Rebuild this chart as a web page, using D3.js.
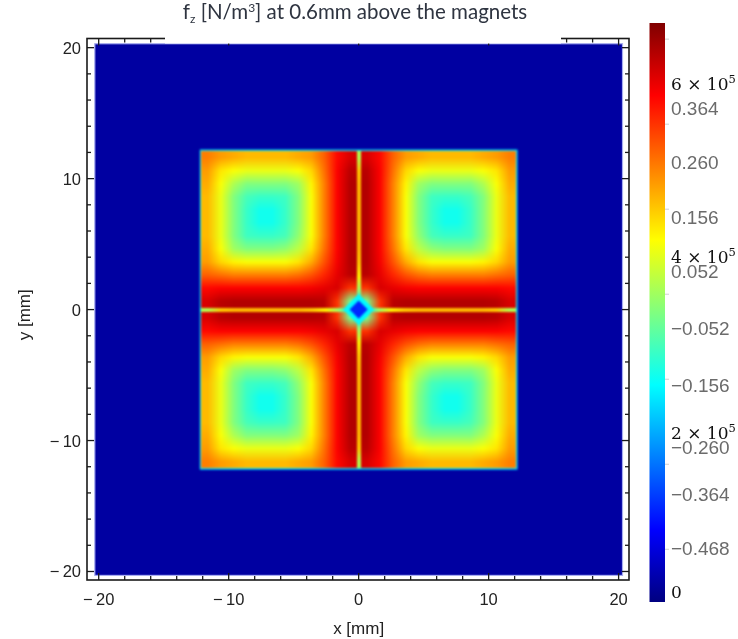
<!DOCTYPE html>
<html><head><meta charset="utf-8">
<script src="https://cdn.jsdelivr.net/npm/d3@7"></script>
<style>
body{margin:0;background:#fff}
#wrap{position:relative;width:738px;height:639px}
#heat,#chart{position:absolute;left:0;top:0}
</style>
</head><body>
<div id="wrap"><canvas id="heat" width="738" height="639"></canvas><svg id="chart" width="738" height="639"></svg></div>
<script>
// ---------------- data (values in units of 1e5 N/m^3) ----------------
const xTicks = [-20, -10, 0, 10, 20];
const yTicks = [-20, -10, 0, 10, 20];
const minorTicks = [-18,-16,-14,-12,-8,-6,-4,-2,2,4,6,8,12,14,16,18];
const cbMainLabels = [0, 2, 4, 6];                       // × 10^5
const cbGreyLabels = [0.364, 0.260, 0.156, 0.052, -0.052, -0.156, -0.260, -0.364, -0.468];
const cbMinorTicks = [0.5, 1.5, 2.5, 3.5, 4.5, 5.5, 6.5];
const magnetHalf = 12.1;      // mm
const gapHalf = 0.15;         // mm
const plotHalf = 20.3;        // mm
const backgroundValue = 0.1;
const rimValue = 2.3;
// top-left magnet quadrant, 1 mm cells: rows y = 11.5 .. 0.5, cols x = -11.5 .. -0.5
const quadrantTL = [
  [5.0, 4.8, 4.7, 4.6, 4.6, 4.6, 4.6, 4.7, 4.8, 5.2, 5.8, 6.1],
  [4.8, 4.3, 4.1, 4.0, 4.0, 4.0, 4.0, 4.1, 4.4, 5.1, 5.85, 6.3],
  [4.7, 4.1, 3.6, 3.3, 3.3, 3.3, 3.3, 3.5, 4.2, 5.0, 5.85, 6.35],
  [4.6, 4.0, 3.3, 2.9, 2.8, 2.8, 2.85, 3.3, 4.1, 5.0, 5.85, 6.35],
  [4.6, 4.0, 3.3, 2.8, 2.55, 2.55, 2.8, 3.3, 4.1, 5.0, 5.85, 6.35],
  [4.6, 4.0, 3.3, 2.8, 2.55, 2.55, 2.8, 3.3, 4.1, 5.0, 5.85, 6.35],
  [4.6, 4.0, 3.3, 2.85, 2.8, 2.8, 2.9, 3.4, 4.1, 5.0, 5.85, 6.35],
  [4.7, 4.1, 3.5, 3.3, 3.3, 3.3, 3.4, 3.7, 4.3, 5.1, 5.85, 6.35],
  [4.8, 4.4, 4.2, 4.1, 4.1, 4.1, 4.1, 4.3, 4.7, 5.3, 5.9, 6.35],
  [5.2, 5.1, 5.0, 5.0, 5.0, 5.0, 5.0, 5.1, 5.3, 5.6, 6.0, 6.3],
  [5.8, 5.85, 5.85, 5.85, 5.85, 5.85, 5.85, 5.85, 5.9, 6.0, 6.1, 5.5],
  [6.1, 6.3, 6.35, 6.35, 6.35, 6.35, 6.35, 6.35, 6.35, 6.3, 5.5, 3.2]
];
// value in the narrow gap between magnets, from the centre outwards (0.5 .. 11.5 mm)
const gapProfile = [2.2, 3.4, 4.2, 4.5, 4.6, 4.6, 4.6, 4.6, 4.6, 4.6, 4.5, 3.6];
// centre diamond: half-diagonal (mm) and value
const centreR = [1.2, 0.7];
const centreV = [2.4, 1.0];

// ---------------- scales ----------------
const x = d3.scaleLinear().domain([-20.9, 20.8]).range([87, 629]);
const y = d3.scaleLinear().domain([-20.65, 20.7]).range([580, 38.5]);
const vMin = -0.12, vMax = 6.69;
const jetT = [0, 0.125, 0.375, 0.625, 0.875, 1];
const jetC = ["#000080", "#0000ff", "#00ffff", "#ffff00", "#ff0000", "#800000"];
const color = d3.scaleLinear().domain(jetT.map(t => vMin + t * (vMax - vMin))).range(jetC).clamp(true);

// ---------------- heatmap (canvas) ----------------
function gridCanvas(m) {
  const rows = m.length, cols = m[0].length;
  const c = document.createElement("canvas"); c.width = cols; c.height = rows;
  const cx = c.getContext("2d"); const img = cx.createImageData(cols, rows);
  m.forEach((row, i) => row.forEach((v, j) => {
    const col = d3.rgb(color(v)); const k = 4 * (i * cols + j);
    img.data[k] = col.r; img.data[k+1] = col.g; img.data[k+2] = col.b; img.data[k+3] = 255;
  }));
  cx.putImageData(img, 0, 0); return c;
}
const heat = document.getElementById("heat").getContext("2d");
heat.fillStyle = color(backgroundValue);
heat.fillRect(x(-plotHalf), y(plotHalf), x(plotHalf) - x(-plotHalf), y(-plotHalf) - y(plotHalf));

const off = document.createElement("canvas"); off.width = 738; off.height = 639;
const oc = off.getContext("2d");
oc.imageSmoothingEnabled = true; oc.imageSmoothingQuality = "medium";
// rim
oc.fillStyle = color(rimValue);
const rh = magnetHalf + 0.12;
oc.fillRect(x(-rh), y(rh), x(rh) - x(-rh), y(-rh) - y(rh));
// quadrants (mirror images of the top-left one)
const qTR = quadrantTL.map(r => r.slice().reverse());
const qBL = quadrantTL.slice().reverse();
const qBR = qTR.slice().reverse();
const quads = [
  {m: quadrantTL, x0: -magnetHalf, x1: -gapHalf, y0: magnetHalf, y1: gapHalf},
  {m: qTR, x0: gapHalf, x1: magnetHalf, y0: magnetHalf, y1: gapHalf},
  {m: qBL, x0: -magnetHalf, x1: -gapHalf, y0: -gapHalf, y1: -magnetHalf},
  {m: qBR, x0: gapHalf, x1: magnetHalf, y0: -gapHalf, y1: -magnetHalf}
];
// gap strips
const gapFull = gapProfile.slice().reverse().concat(gapProfile);
oc.drawImage(gridCanvas(gapFull.map(v => [v])), x(-gapHalf - 0.05), y(magnetHalf), x(gapHalf + 0.05) - x(-gapHalf - 0.05), y(-magnetHalf) - y(magnetHalf));
oc.drawImage(gridCanvas([gapFull]), x(-magnetHalf), y(gapHalf + 0.05), x(magnetHalf) - x(-magnetHalf), y(-gapHalf - 0.05) - y(gapHalf + 0.05));
quads.forEach(q => oc.drawImage(gridCanvas(q.m), x(q.x0), y(q.y0), x(q.x1) - x(q.x0), y(q.y1) - y(q.y0)));
// centre diamond
centreR.forEach((r, i) => {
  oc.fillStyle = color(centreV[i]);
  oc.beginPath();
  oc.moveTo(x(0), y(r)); oc.lineTo(x(r), y(0)); oc.lineTo(x(0), y(-r)); oc.lineTo(x(-r), y(0));
  oc.closePath(); oc.fill();
});
heat.save(); heat.filter = "blur(1.1px)"; heat.drawImage(off, 0, 0); heat.restore();
// pale edge of plotted region
heat.strokeStyle = "#a7acf0"; heat.lineWidth = 1.2;
heat.strokeRect(x(-plotHalf), y(plotHalf), x(plotHalf) - x(-plotHalf), y(-plotHalf) - y(plotHalf));

// ---------------- axes / frame (svg) ----------------
const svg = d3.select("#chart");
const fmt = v => (v < 0 ? "\u2212\u2009" + Math.abs(v) : String(v));
const X0 = x.range()[0], X1 = x.range()[1], Y0 = y.range()[1], Y1 = y.range()[0];
const tk = svg.append("g").attr("stroke", "#1a1a1a").attr("stroke-width", 1.3);
xTicks.forEach(v => {
  tk.append("line").attr("x1", x(v)).attr("x2", x(v)).attr("y1", Y1).attr("y2", Y1 - 7);
  tk.append("line").attr("x1", x(v)).attr("x2", x(v)).attr("y1", Y0).attr("y2", Y0 + 7);
});
yTicks.forEach(v => {
  tk.append("line").attr("y1", y(v)).attr("y2", y(v)).attr("x1", X0).attr("x2", X0 + 7);
  tk.append("line").attr("y1", y(v)).attr("y2", y(v)).attr("x1", X1).attr("x2", X1 - 7);
});
minorTicks.forEach(v => {
  tk.append("line").attr("x1", x(v)).attr("x2", x(v)).attr("y1", Y1).attr("y2", Y1 - 4);
  tk.append("line").attr("x1", x(v)).attr("x2", x(v)).attr("y1", Y0).attr("y2", Y0 + 4);
  tk.append("line").attr("y1", y(v)).attr("y2", y(v)).attr("x1", X0).attr("x2", X0 + 4);
  tk.append("line").attr("y1", y(v)).attr("y2", y(v)).attr("x1", X1).attr("x2", X1 - 4);
});
svg.append("rect").attr("x", X0).attr("y", Y0).attr("width", X1 - X0).attr("height", Y1 - Y0)
  .attr("fill", "none").attr("stroke", "#1a1a1a").attr("stroke-width", 1.6);

const lab = {"font-family": "'Liberation Sans', Arial, sans-serif", "font-size": "16.5px", "fill": "#222"};
const setA = (s, o) => { Object.entries(o).forEach(([k, v]) => s.attr(k, v)); return s; };
xTicks.forEach(v => setA(svg.append("text"), lab).attr("x", x(v)).attr("y", 605).attr("text-anchor", "middle").text(fmt(v)));
yTicks.forEach(v => setA(svg.append("text"), lab).attr("x", 81).attr("y", y(v) + 6).attr("text-anchor", "end").text(fmt(v)));
setA(svg.append("text"), lab).attr("font-size", "17px").attr("x", x(0)).attr("y", 634).attr("text-anchor", "middle").text("x [mm]");
setA(svg.append("text"), lab).attr("font-size", "17px").attr("transform", "translate(30," + y(-0.4) + ") rotate(-90)").attr("text-anchor", "middle").text("y [mm]");

// ---------------- title ----------------
svg.append("rect").attr("x", 165).attr("y", 0).attr("width", 396).attr("height", 43.5).attr("fill", "#fff");
const title = svg.append("text").attr("x", 355).attr("y", 19).attr("text-anchor", "middle")
  .attr("font-family", "Lato, 'Open Sans', sans-serif").attr("font-size", "19.5px").attr("fill", "#2e3440");
title.append("tspan").text("f");
title.append("tspan").attr("font-size", "12px").attr("dy", 4).text("z");
title.append("tspan").attr("dy", -4).text(" [N/m");
title.append("tspan").attr("font-size", "12px").attr("dy", -7).text("3");
title.append("tspan").attr("dy", 7).text("] at 0.6mm above the magnets");
const tl = title.node().getComputedTextLength();
if (tl > 0) title.attr("font-size", Math.max(17, Math.min(22, 19.5 * 345 / tl)).toFixed(2) + "px");

// ---------------- colour bar ----------------
const cbY = d3.scaleLinear().domain([vMin, vMax]).range([602, 23]);
const grad = svg.append("defs").append("linearGradient").attr("id", "jet")
  .attr("x1", 0).attr("y1", 1).attr("x2", 0).attr("y2", 0);
jetT.forEach((t, i) => grad.append("stop").attr("offset", t).attr("stop-color", jetC[i]));
svg.append("rect").attr("x", 649.5).attr("y", cbY(vMax)).attr("width", 15.5).attr("height", cbY(vMin) - cbY(vMax)).attr("fill", "url(#jet)");
cbMinorTicks.forEach(v => svg.append("line").attr("x1", 665).attr("x2", 669).attr("y1", cbY(v)).attr("y2", cbY(v))
  .attr("stroke", "#d0d0d0").attr("stroke-width", 1));

const greyY = d3.scaleLinear().domain([0.364, 0.052, -0.156, -0.260, -0.364, -0.468]).range([108, 271, 385, 447, 494, 548]);
cbGreyLabels.forEach(v => svg.append("text").attr("x", 671).attr("y", greyY(v)).attr("dy", "0.36em")
  .attr("font-family", "'Liberation Sans', Arial, sans-serif").attr("font-size", "19px").attr("fill", "#6b6b6b")
  .text((v < 0 ? "\u2212" : "") + Math.abs(v).toFixed(3)));

const mainY = d3.scaleLinear().domain([0, 2, 4, 6]).range([592, 433, 257, 84]);
cbMainLabels.forEach(v => {
  const t = svg.append("text").attr("x", 671).attr("y", mainY(v)).attr("dy", "0.36em")
    .attr("font-family", "'DejaVu Serif', 'Liberation Serif', serif").attr("font-size", "17px").attr("fill", "#111");
  if (v === 0) { t.text("0"); return; }
  t.append("tspan").text(v + " \u00d7 10");
  t.append("tspan").attr("font-size", "11.5px").attr("dy", -7).text("5");
});
</script>
</body></html>
